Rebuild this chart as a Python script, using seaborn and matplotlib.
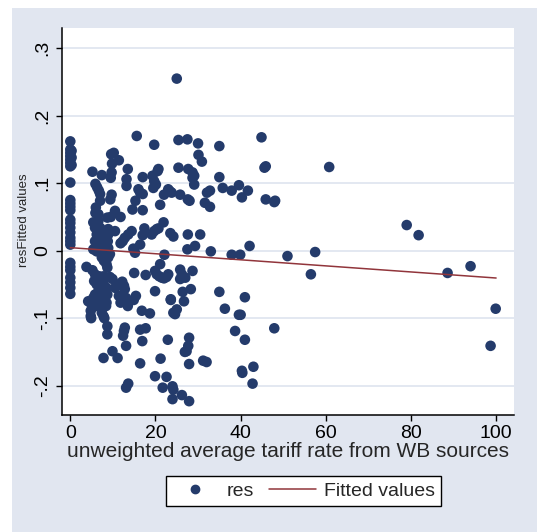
import matplotlib
matplotlib.use("Agg")
import matplotlib.pyplot as plt
from matplotlib.patches import Rectangle
from matplotlib.lines import Line2D
import pandas as pd
import seaborn as sns

# residuals vs unweighted average tariff rate
tariff_zero = [0.0] * 26 + [0.3, 0.3, 0.3]
res_zero = [0.162, 0.150, 0.145, 0.140, 0.135, 0.130, 0.125, 0.101, 0.075, 0.070,
            0.065, 0.060, 0.046, 0.041, 0.034, 0.027, 0.019, 0.014, 0.009, -0.018,
            -0.024, -0.029, -0.040, -0.047, -0.055, -0.064, 0.148, 0.138, 0.127]

tariff_low = [5.2, 5.9, 6.3, 6.7, 7.0, 7.0, 7.4, 9.6, 10.2, 9.8, 9.7, 9.5, 9.7, 9.4,
              6.0, 5.9, 6.6, 8.7, 9.5, 10.5, 11.8, 10.5,
              5.4, 5.8, 6.6, 7.0, 7.4, 6.2, 6.8, 5.8, 6.3, 7.1, 7.8, 8.1, 8.5, 8.8,
              8.4, 5.4, 6.2, 7.0, 7.8, 8.1, 7.4, 7.9, 8.5, 8.9, 9.3, 8.7, 8.9, 8.9, 8.9,
              3.8, 5.2, 5.8, 5.6, 6.2, 6.8, 7.4, 7.8, 8.5, 9.3, 9.9, 6.2, 7.0, 7.8, 8.5,
              6.6, 7.4, 8.1, 8.7, 5.8, 5.4, 6.2, 7.0, 7.8, 8.5, 4.2, 5.0, 6.2, 7.0, 8.4,
              4.8, 4.8, 4.9, 7.4, 7.8, 8.0, 8.7, 8.7, 7.8, 9.9, 11.1]
res_low = [0.117, 0.099, 0.094, 0.089, 0.084, 0.074, 0.112, 0.143, 0.145, 0.129, 0.116,
           0.108, 0.083, 0.076,
           0.064, 0.056, 0.054, 0.049, 0.050, 0.059, 0.050, 0.029,
           0.042, 0.034, 0.044, 0.034, 0.029, 0.024, 0.019, 0.014, 0.009, 0.012, 0.017,
           0.024, 0.019, 0.014, 0.007, 0.002, -0.001, 0.000, 0.002, -0.005, -0.010,
           -0.015, -0.020, -0.010, -0.005, -0.025, 0.004, 0.032, 0.024,
           -0.024, -0.029, -0.035, -0.045, -0.040, -0.038, -0.042, -0.038, -0.040,
           -0.039, -0.042, -0.050, -0.052, -0.050, -0.055,
           -0.060, -0.062, -0.060, -0.065, -0.065, -0.070, -0.072, -0.070, -0.075,
           -0.077, -0.075, -0.080, -0.082, -0.080, -0.082,
           -0.089, -0.097, -0.100, -0.092, -0.097, -0.100, -0.112, -0.124, -0.159,
           -0.149, -0.159]

tariff_mid = [13.5, 13.2, 13.2, 11.4, 15.6, 16.0, 16.4, 17.0, 17.0, 15.3, 14.6, 17.0,
              19.7, 19.3, 19.7, 19.5, 20.1, 20.7, 20.5, 21.1, 22.0, 23.0, 23.4, 23.8,
              21.9, 17.4, 17.0, 16.4, 14.4, 13.6, 12.8, 12.3, 11.8, 14.8, 15.2,
              19.1, 19.7, 20.3, 20.7, 22.1, 15.0, 17.7, 19.9, 20.3, 20.9, 21.5, 22.0,
              22.6, 23.0, 21.1, 19.9, 10.5, 11.0, 11.7, 12.2, 12.6, 12.8,
              11.4, 11.8, 12.4, 13.1, 13.5, 12.9, 15.4, 14.9, 16.8, 18.7,
              12.6, 12.8, 12.4, 13.1, 16.4, 17.7, 16.9, 16.4, 19.9, 21.2, 22.6, 21.7,
              13.1, 13.6, 22.9, 23.6]
res_mid = [0.121, 0.106, 0.096, 0.134, 0.170, 0.091, 0.086, 0.109, 0.084, 0.074, 0.061,
           0.060, 0.157, 0.111, 0.103, 0.093, 0.098, 0.121, 0.118, 0.068, 0.083,
           0.091, 0.088, 0.086, 0.042, 0.033, 0.023, 0.009, 0.029, 0.024, 0.019,
           0.014, 0.011, 0.003, -0.003, 0.024, 0.029, 0.032, 0.033, -0.006, -0.033,
           -0.036, -0.030, -0.035, -0.038, -0.040, -0.041, -0.039, -0.035, -0.020,
           -0.060, -0.055, -0.052, -0.049, -0.046, -0.052, -0.057,
           -0.067, -0.077, -0.072, -0.070, -0.082, -0.074, -0.067, -0.073, -0.089,
           -0.093, -0.119, -0.114, -0.126, -0.141, -0.117, -0.115, -0.134, -0.167,
           -0.186, -0.160, -0.187, -0.203, -0.203, -0.197, -0.132, -0.072]

tariff_high = [25.0, 25.4, 27.5, 30.0, 30.1, 30.9, 25.4, 27.7, 28.7, 29.1, 28.7, 29.1,
               25.8, 27.6, 28.0, 31.6, 32.1, 32.8, 32.8, 35.0, 35.0, 35.8, 27.6, 30.5,
               23.5, 24.2, 27.5, 29.3, 33.0, 25.8, 26.2, 25.8, 27.0, 28.7, 28.3, 26.4,
               26.7, 35.0, 36.3, 23.6, 24.2, 24.6, 25.0, 27.9, 27.7, 27.3, 26.9, 27.9,
               31.2, 32.0, 24.0, 24.2, 24.0, 26.2, 27.9,
               44.9, 45.6, 45.9, 45.9, 48.1, 47.9, 37.9, 39.6, 40.3, 41.7, 42.1, 37.9,
               39.9, 41.0, 39.6, 40.0, 38.7, 41.0, 47.9, 40.3, 40.4, 43.0, 42.8,
               51.0, 57.5, 56.5, 60.8, 79.0, 81.8, 88.6, 94.0, 99.9, 98.7]
res_high = [0.255, 0.164, 0.165, 0.159, 0.142, 0.132, 0.123, 0.121, 0.116, 0.111, 0.108,
            0.098, 0.083, 0.076, 0.074, 0.071, 0.086, 0.089, 0.065, 0.155, 0.109, 0.093,
            0.024, 0.024, 0.026, 0.021, 0.002, 0.007, -0.001, -0.028, -0.035, -0.042,
            -0.040, -0.030, -0.057, -0.061, -0.075, -0.061, -0.086, -0.073, -0.092,
            -0.094, -0.087, -0.129, -0.141, -0.149, -0.150, -0.168, -0.163, -0.165,
            -0.201, -0.206, -0.220, -0.214, -0.223,
            0.168, 0.123, 0.125, 0.076, 0.074, 0.072, 0.089, 0.097, 0.079, 0.089, 0.007,
            -0.006, -0.006, -0.069, -0.095, -0.095, -0.119, -0.132, -0.115, -0.178,
            -0.181, -0.172, -0.197,
            -0.008, -0.002, -0.035, 0.124, 0.038, 0.023, -0.033, -0.023, -0.086, -0.141]

fit_tariff = [0.0, 100.0]
fit_values = [0.0045, -0.0405]

y_ticks = [-0.2, -0.1, 0.0, 0.1, 0.2, 0.3]
y_tick_labels = ["-.2", "-.1", "0", ".1", ".2", ".3"]
x_ticks = [0, 20, 40, 60, 80, 100]

NAVY = "#243b6b"
MAROON = "#91353b"
BG = "#e1e6f0"

df = pd.DataFrame({
    "tariff": tariff_zero + tariff_low + tariff_mid + tariff_high,
    "res": res_zero + res_low + res_mid + res_high,
})
fit = pd.DataFrame({"tariff": fit_tariff, "fitted": fit_values})

sns.set_style("ticks")
plt.rcParams["font.family"] = ["Liberation Sans", "DejaVu Sans"]

fig = plt.figure(figsize=(5.37, 5.32), dpi=100)
fig.patches.append(Rectangle((12 / 537, 0), 1, 1 - 8 / 532, transform=fig.transFigure,
                             facecolor=BG, edgecolor="none", zorder=-10))
ax = fig.add_axes([62 / 537, 1 - 415 / 532, 452 / 537, 387 / 532])
ax.set_facecolor("white")

sns.scatterplot(data=df, x="tariff", y="res", color=NAVY, s=58, edgecolor="none",
                ax=ax, zorder=3, legend=False)
sns.lineplot(data=fit, x="tariff", y="fitted", color=MAROON, linewidth=1.1, ax=ax,
             zorder=4, legend=False)

ax.set_xlim(-1.95, 104.2)
ax.set_ylim(-0.2435, 0.330)
ax.set_xticks(x_ticks)
ax.set_xticklabels([str(t) for t in x_ticks])
ax.set_yticks(y_ticks)
ax.set_yticklabels(y_tick_labels)
ax.yaxis.grid(True, color="#e3e8f1", linewidth=1.4)
ax.xaxis.grid(False)
ax.set_axisbelow(True)

for side in ["top", "right"]:
    ax.spines[side].set_visible(False)
for side in ["left", "bottom"]:
    ax.spines[side].set_color("black")
    ax.spines[side].set_linewidth(1.1)

ax.tick_params(axis="both", direction="out", length=4.5, width=1.0, color="black",
               labelsize=14, labelcolor="black", pad=3)
ax.tick_params(axis="y", labelrotation=90)
for lab in ax.get_yticklabels():
    lab.set_va("center")

ax.set_xlabel("unweighted average tariff rate from WB sources", fontsize=15, labelpad=0)
ax.set_ylabel("")
ax.text(-0.083, 0.504, "resFitted values", transform=ax.transAxes, rotation=90,
        ha="center", va="center", fontsize=9.5)

handles = [
    Line2D([], [], linestyle="none", marker="o", markersize=6, color=NAVY),
    Line2D([], [], color=MAROON, linewidth=1.1),
]
leg = fig.legend(handles, ["res", "Fitted values"], loc="center",
                 bbox_to_anchor=(0.565, 1 - 491 / 532), ncol=2, fontsize=14,
                 frameon=True, fancybox=False, edgecolor="black", facecolor="white",
                 handlelength=2.4, handletextpad=0.4, columnspacing=0.8,
                 borderpad=0.3)
leg.get_frame().set_linewidth(1.0)
leg.get_frame().set_alpha(1)

fig.savefig("out.png", dpi=100, facecolor="white")
